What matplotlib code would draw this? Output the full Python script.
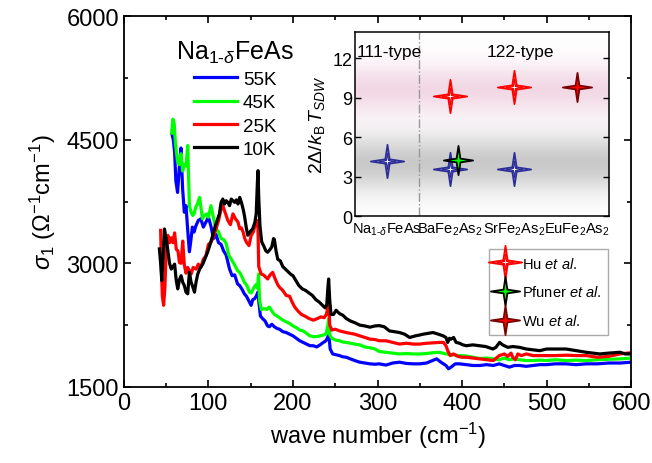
import numpy as np
import matplotlib
matplotlib.use('Agg')
import matplotlib.pyplot as plt
from matplotlib.path import Path
from matplotlib.lines import Line2D
from matplotlib.legend_handler import HandlerTuple
from matplotlib.ticker import MultipleLocator

plt.rcParams['font.family'] = ['Liberation Sans', 'DejaVu Sans']
plt.rcParams['mathtext.fontset'] = 'custom'
plt.rcParams['mathtext.rm'] = 'Liberation Sans'
plt.rcParams['mathtext.it'] = 'Liberation Sans:italic'
plt.rcParams['mathtext.bf'] = 'Liberation Sans:bold'

# ---- main panel data ----
wn_55 = [57, 58.5, 60, 61.5, 63.5, 65.5, 67.5, 69.5, 71.5, 73.5, 75.5, 77.5, 79.5, 81, 83, 85, 88, 91, 94, 97,
         100, 103, 106, 109, 112, 115, 118, 121, 125, 128, 131, 134.5, 137, 140, 142.5, 145, 148.5, 150.5, 152.5,
         154.5, 156.5, 158.5, 160, 161.5, 164, 167, 170, 172, 175, 178, 181, 184, 188, 192, 196, 200, 204, 208,
         212, 216, 220, 224, 228, 232, 236, 239, 241, 242.5, 244, 247, 251, 255, 259, 263, 268, 273, 279, 285,
         291, 297, 302, 310, 318, 326, 334, 342, 350, 358, 365, 370, 375, 381, 384, 387, 392, 397, 405, 413, 421,
         429, 437, 444, 450, 456, 462, 468, 476, 484, 492, 500, 510, 523, 535, 547, 560, 573, 587, 600]
s_55 = [4560, 4500, 4350, 4000, 3860, 4150, 4400, 3900, 3620, 3700, 3400, 3140, 3300, 3440, 3380, 3450, 3520, 3540,
        3440, 3500, 3560, 3450, 3300, 3350, 3250, 3230, 3150, 3100, 2930, 2850, 2860, 2750, 2730, 2680, 2630, 2600,
        2530, 2490, 2560, 2570, 2600, 2650, 2500, 2360, 2330, 2300, 2240, 2230, 2260, 2230, 2210, 2200, 2170, 2160,
        2140, 2120, 2090, 2060, 2040, 2020, 2000, 2000, 1985, 2010, 2040, 2060, 2100, 2130, 1960, 1900, 1890, 1880,
        1865, 1860, 1840, 1820, 1800, 1790, 1780, 1775, 1780, 1765, 1790, 1800, 1785, 1780, 1780, 1790, 1820, 1840,
        1800, 1760, 1720, 1740, 1780, 1780, 1770, 1760, 1760, 1770, 1760, 1780, 1760, 1740, 1760, 1760, 1750, 1760,
        1770, 1770, 1780, 1780, 1770, 1780, 1780, 1790, 1790, 1800]

wn_45 = [56.5, 58, 59.5, 61, 63.5, 65.5, 67.5, 69.5, 71.5, 73.5, 75.5, 77.5, 79.5, 81.5, 83, 85, 87, 89.5, 91.5,
         93, 95, 98, 100, 103, 105, 107, 109, 112, 115, 118, 121, 124, 127, 131, 134.5, 137, 140, 142.5, 145,
         148.5, 150.5, 153, 156, 158, 159.3, 160.5, 162.5, 166, 169, 172, 175, 178, 181, 184, 188, 192, 196, 200,
         204, 208, 212, 216, 220, 224, 228, 232, 236, 239, 241, 242.3, 243.5, 246, 250, 255, 259, 263, 268, 273,
         279, 285, 291, 297, 302, 310, 318, 326, 334, 342, 350, 358, 365, 373, 381, 389, 397, 405, 413, 421, 429,
         437, 444, 450, 456, 462, 468, 476, 484, 492, 500, 510, 523, 535, 547, 560, 573, 587, 600]
s_45 = [4580, 4750, 4700, 4450, 4230, 4200, 4330, 4120, 4200, 4180, 4430, 3700, 3620, 3580, 3600, 3680, 3720, 3800,
        3650, 3540, 3580, 3600, 3560, 3700, 3600, 3500, 3420, 3380, 3300, 3290, 3240, 3100, 3050, 2980, 2910, 2890,
        2830, 2770, 2740, 2650, 2640, 2690, 2740, 2700, 2870, 2550, 2440, 2450, 2440, 2470, 2420, 2380, 2360, 2340,
        2310, 2290, 2270, 2240, 2220, 2190, 2180, 2150, 2120, 2110, 2110, 2120, 2130, 2140, 2230, 2330, 2130, 2090,
        2070, 2060, 2045, 2040, 2030, 2020, 2010, 1985, 1975, 1960, 1930, 1920, 1910, 1900, 1905, 1900, 1900, 1905,
        1915, 1920, 1900, 1890, 1880, 1875, 1860, 1845, 1850, 1840, 1830, 1850, 1830, 1840, 1830, 1820, 1820, 1825,
        1820, 1830, 1820, 1825, 1820, 1830, 1835, 1840, 1850]

wn_25 = [43.5, 44.5, 45.5, 47, 48.5, 50, 52, 54, 56, 58, 60, 62, 64, 65.7, 67.6, 69.6, 71.5, 73.5, 75.5, 77.5,
         79.5, 82, 85.4, 88, 91, 94, 97, 100, 103, 106, 109, 112, 115, 117, 119, 121, 123, 126, 129, 132, 135,
         137, 139, 141, 143, 145, 148, 150.5, 153, 156.4, 158.4, 159.5, 162.4, 165, 168, 170, 173, 176, 179, 182,
         184, 188, 192, 196, 199, 202, 206, 210, 214, 219, 224, 229, 233, 237, 239.5, 241, 242.3, 243.5, 246, 250,
         255, 259, 263, 268, 273, 279, 285, 291, 297, 302, 310, 318, 326, 334, 342, 350, 358, 365, 373.5, 378,
         381, 383, 386, 390, 395, 400, 405, 413, 421, 429, 437, 444, 450, 454, 458, 460, 463, 466, 470, 476, 484,
         492, 500, 510, 523, 535, 547, 560, 573, 587, 600]
s_25 = [3400, 2900, 2600, 2490, 2700, 3150, 3340, 3250, 3310, 3250, 3370, 3170, 3150, 3010, 3000, 3270, 2980, 2880,
        2950, 2910, 2870, 2950, 2930, 2990, 2950, 3050, 3090, 3230, 3255, 3330, 3420, 3520, 3660, 3700, 3640, 3580,
        3520, 3470, 3600, 3540, 3500, 3420, 3430, 3380, 3300, 3255, 3215, 3336, 3380, 3500, 3520, 2960, 2870, 2860,
        2830, 2810, 2860, 2890, 2810, 2740, 2710, 2670, 2610, 2600, 2530, 2470, 2420, 2380, 2360, 2330, 2310, 2330,
        2350, 2340, 2380, 2450, 2520, 2250, 2190, 2200, 2180, 2170, 2160, 2150, 2140, 2120, 2100, 2080, 2075, 2060,
        2060, 2040, 2020, 2030, 2020, 2020, 2030, 2035, 2040, 2040, 2000, 1940, 1880, 1900, 1870, 1860, 1860, 1850,
        1840, 1830, 1820, 1880, 1900, 1870, 1910, 1860, 1830, 1900, 1880, 1900, 1880, 1880, 1880, 1880, 1885, 1880,
        1880, 1860, 1870, 1900, 1915]

wn_10 = [42, 43.5, 44.8, 46.5, 48, 50, 52, 54, 56, 58, 60, 62, 63.7, 65.7, 67.7, 69.6, 71.5, 73.5, 75.5, 77.5,
         79.5, 81, 83.5, 85.5, 87.4, 90, 93.3, 96, 99, 102, 105, 108, 111, 113, 115, 117, 119, 121, 123, 125, 127,
         129, 131, 133, 135, 137, 139, 141, 142.6, 144.5, 146.5, 149, 152.4, 155, 156.5, 158, 158.7, 159.5, 161,
         163, 165, 168, 170, 173, 175, 177, 178, 180, 182, 185, 188, 191, 194, 197, 200, 204, 207, 211, 215, 219,
         223, 227, 231, 235, 238, 240, 241.3, 242.2, 243.5, 245, 248, 251, 255, 259, 263, 268, 273, 279, 285, 291,
         297, 302, 308, 314, 320, 326, 332, 338, 345, 350, 354, 360, 365.6, 372, 377.5, 381, 383, 385, 387, 390,
         393, 397, 401, 405, 413, 420.7, 428, 436.5, 440, 444.4, 448, 454, 460, 468, 476, 484, 492, 500, 510, 523,
         535, 547, 555, 563, 573, 587, 593, 600]
s_10 = [3175, 3000, 2790, 3100, 3417, 3300, 3155, 3000, 2930, 2960, 2990, 2790, 2690, 2800, 2850, 2770, 2730, 2650,
        2630, 2890, 2770, 2730, 2650, 2780, 2870, 2940, 2990, 3060, 3135, 3230, 3336, 3450, 3540, 3600, 3740, 3780,
        3720, 3760, 3740, 3700, 3780, 3760, 3740, 3770, 3720, 3800, 3740, 3660, 3580, 3450, 3340, 3380, 3420, 3500,
        3600, 4000, 4125, 3800, 3450, 3260, 3220, 3150, 3135, 3170, 3200, 3300, 3290, 3150, 3050, 3030, 2960, 2930,
        2900, 2870, 2850, 2780, 2730, 2690, 2670, 2640, 2610, 2560, 2530, 2490, 2460, 2500, 2700, 2810, 2550, 2380,
        2380, 2430, 2390, 2370, 2330, 2300, 2280, 2250, 2240, 2225, 2240, 2244, 2230, 2180, 2170, 2160, 2140, 2100,
        2120, 2130, 2140, 2150, 2160, 2140, 2120, 2100, 2040, 2090, 2080, 2100, 2040, 2030, 2010, 2000, 2010, 2000,
        1990, 1960, 1980, 2040, 2010, 1980, 1990, 1980, 1960, 1950, 1940, 1960, 1960, 1960, 1940, 1920, 1910, 1900,
        1910, 1920, 1900, 1900]

temps = ['55K', '45K', '25K', '10K']
colors = ['#0000ff', '#00ff00', '#ff0000', '#000000']

# ---- inset data ----
NA = 'Na$_{1\u2010\\delta}$FeAs'
compounds = [NA, 'BaFe$_2$As$_2$', 'SrFe$_2$As$_2$', 'EuFe$_2$As$_2$']
this_x = [0, 1, 2]
this_gap = [4.2, 3.6, 3.55]
hu_x = [1, 2]
hu_gap = [9.1, 9.8]
pfuner_x = [1.12]
pfuner_gap = [4.25]
wu_x = [3]
wu_gap = [9.8]


def star4(a=0.13):
    v = [(0, 1), (a, a), (1, 0), (a, -a), (0, -1), (-a, -a), (-1, 0), (-a, a), (0, 1)]
    return Path(v, closed=True)


STAR = star4()

fig = plt.figure(figsize=(6.52, 4.64), dpi=100)
ax = fig.add_axes([0.190, 0.164, 0.778, 0.799])

series = [(wn_55, s_55), (wn_45, s_45), (wn_25, s_25), (wn_10, s_10)]
for (x, y), c, t in zip(series, colors, temps):
    ax.plot(x, y, color=c, lw=2.3, label=t)
ax.set_xlim(0, 600)
ax.set_ylim(1500, 6000)
ax.xaxis.set_major_locator(MultipleLocator(100))
ax.xaxis.set_minor_locator(MultipleLocator(50))
ax.yaxis.set_major_locator(MultipleLocator(1500))
ax.yaxis.set_minor_locator(MultipleLocator(750))
ax.tick_params(which='both', direction='in', top=True, right=True, width=1.2, labelsize=17)
ax.tick_params(which='major', length=5)
ax.tick_params(which='minor', length=3)
for sp in ax.spines.values():
    sp.set_linewidth(1.3)
ax.set_xlabel('wave number (cm$^{-1}$)', fontsize=17, labelpad=4)
ax.set_ylabel('$\\sigma_1$ ($\\Omega^{-1}$cm$^{-1}$)', fontsize=17, labelpad=6)

leg = ax.legend(handles=[Line2D([], [], color=c, lw=2.3) for c in colors], labels=temps,
                loc='upper left', bbox_to_anchor=(0.085, 0.965), frameon=False,
                title=NA, title_fontsize=18, fontsize=13.5,
                handlelength=2.3, handletextpad=0.3, labelspacing=0.33, borderpad=0)

# ---- inset ----
ins = fig.add_axes([0.5445, 0.532, 0.3895, 0.397])
yy = np.linspace(0, 14, 400)
pink = np.exp(-0.5 * ((yy - 9.6) / 1.35) ** 2)
gray = np.exp(-0.5 * ((yy - 4.0) / 1.5) ** 2)
img = np.ones((len(yy), 1, 3))
img[:, 0, 0] -= 0.05 * pink + 0.21 * gray
img[:, 0, 1] -= 0.15 * pink + 0.21 * gray
img[:, 0, 2] -= 0.10 * pink + 0.21 * gray
ins.imshow(img, extent=[-0.5, 3.5, 0, 14], origin='lower', aspect='auto', zorder=0)
ins.axvline(0.5, color='#999999', lw=1, ls='-.', zorder=1)

ms_big, ms_small = 24, 12
ins.plot(this_x, this_gap, ls='none', marker=STAR, ms=ms_big, mfc='white', mec='#2e2e99', mew=1.3, zorder=3)
ins.plot(this_x, this_gap, ls='none', marker=STAR, ms=ms_small, mfc='white', mec='#2e2e99', mew=0.9, zorder=3)
ins.plot(hu_x, hu_gap, ls='none', marker=STAR, ms=ms_big, mfc='white', mec='#ff0000', mew=1.3, zorder=3)
ins.plot(hu_x, hu_gap, ls='none', marker=STAR, ms=ms_small, mfc='white', mec='#ff0000', mew=0.9, zorder=3)
ins.plot(pfuner_x, pfuner_gap, ls='none', marker=STAR, ms=21, mfc='#00ff00', mec='black', mew=1.3, zorder=4)
ins.plot(wu_x, wu_gap, ls='none', marker=STAR, ms=21, mfc='#ff0000', mec='#7a0000', mew=1.3, zorder=4)

ins.set_xlim(-0.5, 3.5)
ins.set_ylim(0, 14)
ins.set_xticks(range(len(compounds)))
ins.set_xticklabels(compounds, fontsize=10.5)
ins.set_yticks([0, 3, 6, 9, 12])
ins.tick_params(axis='y', direction='in', right=True, length=4, width=1, labelsize=13, pad=2)
ins.tick_params(axis='x', length=0, pad=3)
for sp in ins.spines.values():
    sp.set_linewidth(1.1)
ins.set_ylabel('2$\\Delta$/$k_{\\rm B}\\,T_{SDW}$', fontsize=14, labelpad=4)
ins.text(-0.47, 12.55, '111-type', fontsize=12.5, ha='left', va='center')
ins.text(2.1, 12.55, '122-type', fontsize=12.5, ha='center', va='center')

# legend for literature values
h_hu = (Line2D([], [], ls='none', marker=STAR, ms=ms_big, mfc='white', mec='#ff0000', mew=1.3),
        Line2D([], [], ls='none', marker=STAR, ms=ms_small, mfc='white', mec='#ff0000', mew=0.9))
h_pf = Line2D([], [], ls='none', marker=STAR, ms=21, mfc='#00ff00', mec='black', mew=1.3)
h_wu = Line2D([], [], ls='none', marker=STAR, ms=21, mfc='#ff0000', mec='#7a0000', mew=1.3)
leg2 = ax.legend([h_hu, h_pf, h_wu], ['Hu $et\\ al.$', 'Pfuner $et\\ al.$', 'Wu $et\\ al.$'],
                 handler_map={tuple: HandlerTuple(ndivide=1, pad=0)},
                 loc='upper left', bbox_to_anchor=(0.72, 0.372), fontsize=10.5,
                 frameon=True, fancybox=False, edgecolor='#aaaaaa', framealpha=1,
                 handlelength=1.3, handletextpad=0.5, labelspacing=0.95, borderpad=0.45, borderaxespad=0)
leg2.get_frame().set_linewidth(1)
ax.add_artist(leg)

fig.savefig('out.png', dpi=100)
